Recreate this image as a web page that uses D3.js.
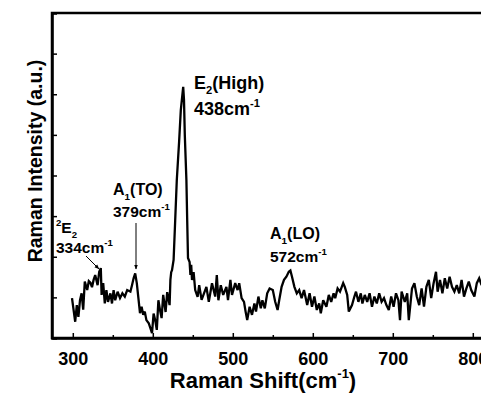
<!DOCTYPE html>
<html>
<head>
<meta charset="utf-8">
<script src="https://cdn.jsdelivr.net/npm/d3@7"></script>
<style>
  body { margin: 0; background: #fff; }
  svg { display: block; font-family: Arial, "Liberation Sans", sans-serif; }
</style>
</head>
<body>
<div id="chart"></div>
<script>
/**
 * Data
 */
const shift = [299, 303, 305, 307, 309, 311, 313, 315, 318, 320, 322, 324, 326, 328, 331, 333, 335, 336, 338, 340,
  342, 344, 347, 349, 351, 353, 356, 359, 362, 365, 368, 372, 374, 376, 378, 380, 382, 384, 386, 388,
  390, 392, 395, 397, 399, 401, 403, 405, 407, 409, 411, 413, 416, 418, 421, 422, 423, 424, 426, 428,
  430, 433, 435, 438, 439, 440, 442, 443, 444, 446, 447, 448, 449, 451, 453, 456, 458, 461, 464, 467,
  470, 474, 478, 480, 482, 485, 488, 492, 494, 497, 499, 503, 506, 508, 511, 514, 516, 518, 521, 524,
  527, 529, 532, 535, 537, 540, 543, 546, 550, 553, 556, 558, 561, 564, 567, 570, 572, 574, 577, 580,
  583, 586, 589, 593, 596, 599, 602, 605, 608, 610, 613, 617, 620, 623, 626, 628, 631, 634, 638, 640,
  643, 645, 649, 652, 654, 657, 660, 662, 665, 668, 671, 674, 677, 680, 683, 686, 689, 692, 695, 698,
  701, 704, 707, 709, 711, 715, 718, 720, 724, 727, 730, 733, 736, 739, 742, 745, 748, 751, 754, 756,
  759, 762, 765, 768, 771, 774, 777, 780, 783, 786, 789, 792, 795, 798, 802, 805, 808, 811];

const intensity = [0.98, 0.40, 0.81, 0.52, 0.93, 1.10, 0.70, 1.39, 1.18, 1.40, 1.36, 1.25, 1.43, 1.55, 1.30, 1.63, 1.72, 1.06, 1.35, 0.85,
  1.18, 0.89, 1.10, 0.85, 1.18, 0.93, 1.14, 0.98, 1.10, 1.02, 1.18, 1.14, 1.30, 1.47, 1.59, 1.35, 0.98, 0.61, 0.77, 0.57,
  0.65, 0.44, 0.36, 0.24, 0.12, 0.60, 0.44, 0.20, 0.93, 0.69, 0.49, 1.06, 0.64, 1.13, 0.81, 1.43, 1.62, 1.67, 1.92, 2.90,
  3.89, 4.87, 5.61, 6.18, 5.86, 5.00, 3.89, 2.90, 1.97, 1.87, 1.55, 1.80, 1.43, 1.62, 1.18, 1.01, 1.30, 0.94, 1.10, 1.26,
  0.89, 1.35, 1.02, 1.55, 0.93, 1.30, 1.06, 1.26, 0.93, 1.43, 1.06, 1.35, 1.18, 1.35, 0.98, 0.89, 0.65, 0.44, 0.77, 0.57,
  0.85, 0.65, 1.02, 0.73, 0.93, 0.73, 1.10, 1.22, 1.18, 0.89, 0.69, 0.93, 1.26, 1.43, 1.51, 1.63, 1.66, 1.51, 1.26, 1.10,
  1.18, 0.98, 1.18, 0.81, 1.10, 0.77, 1.02, 0.69, 0.85, 0.61, 0.93, 0.77, 1.06, 0.89, 1.10, 0.98, 1.22, 1.14, 1.35, 1.26,
  1.06, 0.65, 0.81, 1.02, 1.14, 0.89, 1.10, 0.85, 1.06, 0.89, 1.10, 0.77, 1.02, 0.85, 1.10, 0.89, 0.98, 0.81, 0.69, 1.02,
  0.77, 1.10, 0.93, 0.44, 1.14, 0.89, 1.10, 0.44, 1.22, 1.35, 1.02, 0.81, 1.22, 0.77, 1.26, 1.43, 0.98, 1.35, 1.63, 1.14,
  1.43, 1.10, 1.47, 1.22, 1.51, 1.26, 1.14, 1.30, 1.10, 1.43, 1.02, 1.22, 1.39, 1.18, 1.02, 1.35, 1.47, 1.30];

const xTicks = [300, 400, 500, 600, 700, 800];
const xMinorTicks = [350, 450, 550, 650, 750];
const yTicks = [1, 2, 3, 4, 5, 6, 7];

const peakShift = [334, 379, 438, 572];

/**
 * Basic Settings
 */
const canvasWidth = 481;
const canvasHeight = 397;
const margin = { top: 13, left: 52, bottom: 59 };

const svg = d3.select("#chart")
  .append("svg")
  .attr("width", canvasWidth)
  .attr("height", canvasHeight);

/**
 * Scale
 */
const xScale = d3.scaleLinear()
  .domain([274, 820])
  .range([margin.left, margin.left + 546 * 0.8]);

const yScale = d3.scaleLinear()
  .domain([0, 8])
  .range([canvasHeight - margin.bottom, margin.top]);

/**
 * Frame + axes
 */
svg.append("rect")
  .attr("x", xScale(274))
  .attr("y", yScale(8))
  .attr("width", xScale(820) - xScale(274))
  .attr("height", yScale(0) - yScale(8))
  .attr("fill", "none")
  .attr("stroke", "#000")
  .attr("stroke-width", 2.5);

const xAxis = d3.axisBottom(xScale)
  .tickValues(xTicks)
  .tickSize(-5)
  .tickSizeOuter(0)
  .tickPadding(10);

const gx = svg.append("g")
  .attr("transform", `translate(0, ${yScale(0)})`)
  .call(xAxis);

gx.select(".domain").attr("stroke-width", 2.5);
gx.selectAll(".tick line").attr("stroke-width", 1.5);
gx.selectAll(".tick text")
  .attr("font-size", 18)
  .attr("font-weight", "bold")
  .attr("font-family", "Arial, 'Liberation Sans', sans-serif")
  .attr("y", 10)
  .attr("dy", "0.95em");

svg.append("g")
  .attr("transform", `translate(0, ${yScale(0)})`)
  .call(d3.axisBottom(xScale).tickValues(xMinorTicks).tickSize(-3).tickFormat(""))
  .call(g => g.select(".domain").remove())
  .selectAll(".tick line").attr("stroke-width", 1.5);

svg.append("g")
  .attr("transform", `translate(${xScale(274)}, 0)`)
  .call(d3.axisLeft(yScale).tickValues(yTicks).tickSize(-5).tickFormat(""))
  .call(g => g.select(".domain").attr("stroke-width", 2.5))
  .selectAll(".tick line").attr("stroke-width", 1.5);

/**
 * Spectrum
 */
const line = d3.line()
  .x((d, i) => xScale(shift[i]))
  .y(d => yScale(d));

svg.append("path")
  .datum(intensity)
  .attr("d", line)
  .attr("fill", "none")
  .attr("stroke", "#000")
  .attr("stroke-width", 2.3)
  .attr("stroke-linejoin", "miter")
  .attr("stroke-miterlimit", 3);

/**
 * Axis titles
 */
const xTitle = svg.append("text")
  .attr("x", 263)
  .attr("y", 388)
  .attr("text-anchor", "middle")
  .attr("font-size", 22)
  .attr("font-weight", "bold");
xTitle.append("tspan").text("Raman Shift(cm");
xTitle.append("tspan").attr("font-size", 13).attr("dy", -10).text("-1");
xTitle.append("tspan").attr("dy", 10).text(")");

svg.append("text")
  .attr("transform", "translate(42, 161) rotate(-90)")
  .attr("text-anchor", "middle")
  .attr("font-size", 19.5)
  .attr("font-weight", "bold")
  .text("Raman Intensity (a.u.)");

/**
 * Peak annotations
 */
function label(x, y, size, parts) {
  const t = svg.append("text")
    .attr("x", x)
    .attr("y", y)
    .attr("font-size", size)
    .attr("font-weight", "bold");
  let shiftY = 0;
  parts.forEach(p => {
    const target = p.pos === "sup" ? -size * 0.45 : p.pos === "sub" ? size * 0.3 : 0;
    t.append("tspan")
      .attr("dy", target - shiftY)
      .attr("font-size", p.pos ? size * 0.62 : size)
      .text(p.t);
    shiftY = target;
  });
}

label(56, 233, 15.5, [{ t: "2", pos: "sup" }, { t: "E" }, { t: "2", pos: "sub" }]);
label(56, 253, 15.5, [{ t: peakShift[0] + "cm" }, { t: "-1", pos: "sup" }]);
label(113, 195, 16, [{ t: "A" }, { t: "1", pos: "sub" }, { t: "(TO)" }]);
label(113, 217, 15.5, [{ t: peakShift[1] + "cm" }, { t: "-1", pos: "sup" }]);
label(194, 89, 18, [{ t: "E" }, { t: "2", pos: "sub" }, { t: "(High)" }]);
label(194, 115, 18, [{ t: peakShift[2] + "cm" }, { t: "-1", pos: "sup" }]);
label(270, 239, 16, [{ t: "A" }, { t: "1", pos: "sub" }, { t: "(LO)" }]);
label(270, 262, 15.5, [{ t: peakShift[3] + "cm" }, { t: "-1", pos: "sup" }]);

/**
 * Arrows
 */
svg.append("defs").append("marker")
  .attr("id", "head")
  .attr("viewBox", "0 0 10 10")
  .attr("refX", 9)
  .attr("refY", 5)
  .attr("markerWidth", 5)
  .attr("markerHeight", 5)
  .attr("orient", "auto")
  .append("path")
  .attr("d", "M0,1 L10,5 L0,9 Z")
  .attr("fill", "#000");

const arrows = [
  [86, 256, 99, 269],
  [136, 223, 136, 269]
];

svg.selectAll(".arrow")
  .data(arrows)
  .enter()
  .append("line")
  .attr("class", "arrow")
  .attr("x1", d => d[0])
  .attr("y1", d => d[1])
  .attr("x2", d => d[2])
  .attr("y2", d => d[3])
  .attr("stroke", "#000")
  .attr("stroke-width", 1)
  .attr("marker-end", "url(#head)");
</script>
</body>
</html>
